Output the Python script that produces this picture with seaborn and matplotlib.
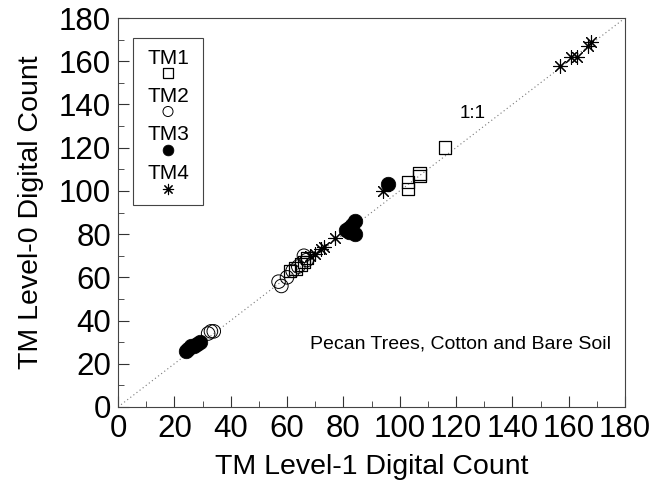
import numpy as np
import pandas as pd
import matplotlib
matplotlib.use("Agg")
import matplotlib.pyplot as plt
import seaborn as sns
from matplotlib.ticker import MultipleLocator

# TM band digital counts: Level-1 (x) vs Level-0 (y)
tm1_x = [61, 63, 65, 66, 67, 103, 103, 107, 107, 116]
tm1_y = [63, 64, 66, 67, 69, 101, 104, 107, 108, 120]

tm2_x = [32, 33, 34, 57, 58, 60, 62, 64, 66, 67]
tm2_y = [34, 35, 35, 58, 56, 60, 63, 65, 70, 68]

tm3_x = [24, 25, 26, 27, 28, 29, 81, 82, 83, 84, 84, 82, 96]
tm3_y = [26, 27, 28, 28, 29, 30, 82, 83, 84, 86, 80, 81, 103]

tm4_x = [68, 70, 72, 73, 77, 94, 157, 161, 163, 167, 168]
tm4_y = [70, 71, 73, 74, 78, 100, 158, 162, 162, 167, 169]

band_names = ["TM1", "TM2", "TM3", "TM4"]
one_to_one = [0, 180]

sns.set_theme(style="ticks")
plt.rcParams["font.family"] = ["Liberation Sans", "DejaVu Sans"]
plt.rcParams["text.color"] = "black"
plt.rcParams["axes.labelcolor"] = "black"
plt.rcParams["xtick.labelcolor"] = "black"
plt.rcParams["ytick.labelcolor"] = "black"

fig = plt.figure(figsize=(6.65, 4.87), dpi=100)
ax = fig.add_axes([118 / 665, 1 - 407 / 487, 507 / 665, 389 / 487])

# 1:1 reference line
ax.plot(one_to_one, one_to_one, linestyle=(0, (1, 2.5)), color="#777777", lw=0.8, zorder=1)

styles = {
    "TM1": dict(marker="s", s=80, facecolor="none", edgecolor="black", linewidth=0.9),
    "TM2": dict(marker="o", s=95, facecolor="none", edgecolor="black", linewidth=0.7),
    "TM3": dict(marker="o", s=110, color="black", edgecolor="black", linewidth=0.5),
    "TM4": dict(marker=(8, 2, 0), s=100, color="black", linewidth=0.8),
}
series = {
    "TM1": (tm1_x, tm1_y),
    "TM2": (tm2_x, tm2_y),
    "TM3": (tm3_x, tm3_y),
    "TM4": (tm4_x, tm4_y),
}
for name in band_names:
    xs, ys = series[name]
    df = pd.DataFrame({"level1": xs, "level0": ys})
    sns.scatterplot(data=df, x="level1", y="level0", ax=ax, legend=False,
                    zorder=3, **styles[name])

ax.set_xlim(0, 180)
ax.set_ylim(0, 180)
ax.xaxis.set_major_locator(MultipleLocator(20))
ax.yaxis.set_major_locator(MultipleLocator(20))
ax.xaxis.set_minor_locator(MultipleLocator(10))
ax.yaxis.set_minor_locator(MultipleLocator(10))
ax.tick_params(which="major", direction="in", length=8, width=0.8, labelsize=22.5, pad=5,
               color="#333333")
ax.tick_params(which="minor", direction="in", length=4, width=0.6, color="#333333")
for sp in ax.spines.values():
    sp.set_linewidth(0.8)
    sp.set_color("#444444")

ax.set_xlabel("TM Level-1 Digital Count", fontsize=20.5, labelpad=7)
ax.set_ylabel("TM Level-0 Digital Count", fontsize=20.5, labelpad=11)

ax.text(126, 136, "1:1", fontsize=13.5, ha="center", va="center")
ax.text(175, 29, "Pecan Trees, Cotton and Bare Soil", fontsize=14, ha="right", va="center")

# stacked legend: label above its marker
legend_box = plt.Rectangle((15 / 507, 1 - 187 / 389), 70 / 507, 167 / 389,
                           transform=ax.transAxes, fill=False, edgecolor="#444444",
                           linewidth=0.8, zorder=4)
ax.add_patch(legend_box)
cx = 50 / 507
for i, name in enumerate(band_names):
    ty = 1 - (40 + 38.5 * i) / 389
    my = 1 - (55 + 38.5 * i) / 389
    ax.text(cx, ty, name, transform=ax.transAxes, fontsize=15, ha="center", va="center",
            zorder=5)
    st = dict(styles[name])
    st["s"] = st["s"] * 0.55
    ax.scatter([cx], [my], transform=ax.transAxes, zorder=5, clip_on=False, **st)

fig.savefig("out.png", dpi=100)
